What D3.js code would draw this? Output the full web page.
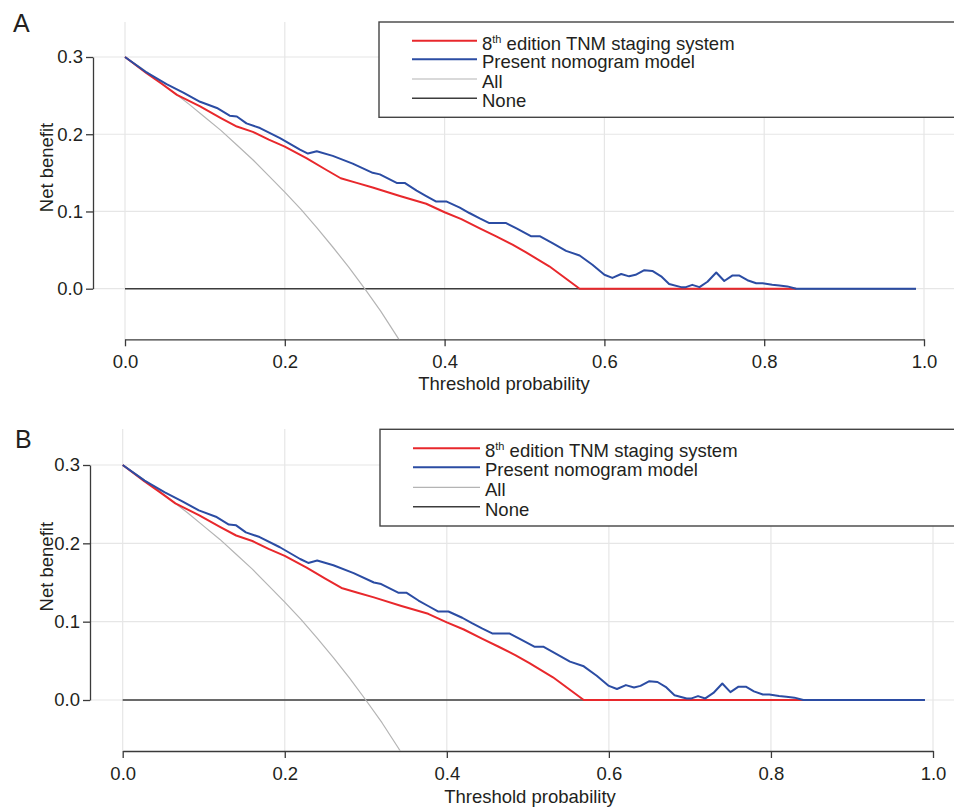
<!DOCTYPE html>
<html>
<head>
<meta charset="utf-8">
<script src="https://cdn.jsdelivr.net/npm/d3@7"></script>
<style>
  html, body { margin: 0; padding: 0; background: #fff; }
  svg { display: block; font-family: "Liberation Sans", Arial, Helvetica, sans-serif; }
</style>
</head>
<body>
<svg id="chart" width="954" height="808"></svg>
<script>
// decision curves: [threshold probability, net benefit]
const tnmCurve = [
  [0, 0.300], [0.027, 0.279], [0.045, 0.266], [0.065, 0.251], [0.094, 0.236],
  [0.120, 0.221], [0.140, 0.210], [0.160, 0.203], [0.180, 0.193], [0.200, 0.184],
  [0.227, 0.169], [0.250, 0.155], [0.270, 0.143], [0.290, 0.137], [0.310, 0.131],
  [0.344, 0.120], [0.377, 0.110], [0.400, 0.099], [0.421, 0.090], [0.444, 0.078],
  [0.464, 0.068], [0.485, 0.057], [0.502, 0.047], [0.531, 0.029], [0.569, 0.000],
  [0.840, 0.000]
];
const nomogramCurve = [
  [0, 0.300], [0.027, 0.280], [0.052, 0.265], [0.073, 0.254], [0.094, 0.242],
  [0.115, 0.234], [0.131, 0.224], [0.140, 0.223], [0.152, 0.214], [0.169, 0.208],
  [0.194, 0.195], [0.219, 0.180], [0.229, 0.175], [0.240, 0.178], [0.260, 0.172],
  [0.285, 0.162], [0.310, 0.150], [0.319, 0.148], [0.340, 0.137], [0.350, 0.137],
  [0.365, 0.127], [0.377, 0.120], [0.389, 0.113], [0.402, 0.113], [0.419, 0.105],
  [0.431, 0.098], [0.444, 0.091], [0.456, 0.085], [0.477, 0.085], [0.490, 0.078],
  [0.508, 0.068], [0.519, 0.068], [0.535, 0.059], [0.552, 0.049], [0.569, 0.043],
  [0.585, 0.031], [0.600, 0.018], [0.610, 0.014], [0.621, 0.019], [0.631, 0.016],
  [0.639, 0.018], [0.650, 0.024], [0.660, 0.023], [0.671, 0.016], [0.681, 0.006],
  [0.696, 0.002], [0.702, 0.002], [0.710, 0.005], [0.719, 0.002], [0.729, 0.009],
  [0.740, 0.021], [0.750, 0.010], [0.760, 0.017], [0.769, 0.017], [0.779, 0.011],
  [0.790, 0.007], [0.798, 0.007], [0.810, 0.005], [0.819, 0.004], [0.829, 0.003],
  [0.840, 0.000], [0.990, 0.000]
];
const treatAllCurve = [
  [0, 0.300], [0.02, 0.286], [0.04, 0.271], [0.06, 0.255], [0.08, 0.239],
  [0.10, 0.222], [0.12, 0.205], [0.14, 0.186], [0.16, 0.167], [0.18, 0.146],
  [0.20, 0.125], [0.22, 0.103], [0.24, 0.079], [0.26, 0.054], [0.28, 0.028],
  [0.30, 0.000], [0.32, -0.029], [0.34, -0.061], [0.36, -0.094]
];
const treatNoneCurve = [[0, 0], [0.99, 0]];

const xTicks = [0, 0.2, 0.4, 0.6, 0.8, 1.0];
const yTicks = [0, 0.1, 0.2, 0.3];
const legendLabels = ['8th edition TNM staging system', 'Present nomogram model', 'All', 'None'];

const textColor = '#231f20';
const series = [
  {data: treatNoneCurve, color: '#3c3c3c', width: 1.4},
  {data: treatAllCurve, color: '#b4b4b4', width: 1.2},
  {data: tnmCurve, color: '#e8282c', width: 2},
  {data: nomogramCurve, color: '#2b4ca3', width: 2}
];
const legendStyles = [series[2], series[3], series[1], series[0]];

// pixel layout of the two panels (they are a little different in the figure)
const panels = [
  {id: 'A', letter: [13, 31.5],
    x0: 125, x1: 924, y0: 288.7, y3: 57, axisX: 93, axisY: 339.3, top: 22,
    xLabel: [504, 390], yLabel: [53, 167.5],
    legend: {x: 379, y: 22, h: 95.3, lineX0: 412, lineX1: 477, rows: [40.7, 59.3, 79, 98.3]}},
  {id: 'B', letter: [15, 448.3],
    x0: 122.7, x1: 933, y0: 700, y3: 465, axisX: 90, axisY: 751, top: 429,
    xLabel: [530, 803], yLabel: [53, 566.7],
    legend: {x: 380, y: 429.3, h: 96.7, lineX0: 413, lineX1: 480, rows: [448.3, 467.3, 487.3, 506.7]}}
];

const svg = d3.select('#chart');

function drawPanel(p) {
  const g = svg.append('g');
  const x = d3.scaleLinear().domain([0, 1]).range([p.x0, p.x1]);
  const y = d3.scaleLinear().domain([0, 0.3]).range([p.y0, p.y3]);

  // grid
  g.selectAll('line.vgrid').data(xTicks).join('line')
    .attr('x1', d => x(d)).attr('x2', d => x(d))
    .attr('y1', p.top).attr('y2', p.axisY)
    .attr('stroke', '#e6e6e6').attr('stroke-width', 1.2);
  g.selectAll('line.hgrid').data(yTicks).join('line')
    .attr('x1', p.axisX).attr('x2', 960)
    .attr('y1', d => y(d)).attr('y2', d => y(d))
    .attr('stroke', '#e6e6e6').attr('stroke-width', 1.2);

  // axes
  const xAxis = g.append('g')
    .attr('transform', `translate(0,${p.axisY})`)
    .call(d3.axisBottom(x).tickValues(xTicks).tickFormat(d3.format('.1f')).tickSizeInner(7).tickSizeOuter(0).tickPadding(9));
  const yAxis = g.append('g')
    .attr('transform', `translate(${p.axisX},0)`)
    .call(d3.axisLeft(y).tickValues(yTicks).tickFormat(d3.format('.1f')).tickSizeInner(7).tickSizeOuter(0).tickPadding(3));
  [xAxis, yAxis].forEach(a => {
    a.select('.domain').attr('stroke', '#3a3a3a').attr('stroke-width', 1.3);
    a.selectAll('.tick line').attr('stroke', '#3a3a3a').attr('stroke-width', 1.3);
    a.selectAll('.tick text').attr('fill', textColor).style('font-size', '18.5px');
  });

  // curves, clipped to the plot region
  const clipId = 'clip' + p.id;
  g.append('clipPath').attr('id', clipId).append('rect')
    .attr('x', p.axisX).attr('y', p.top).attr('width', 960 - p.axisX).attr('height', p.axisY - p.top);
  const line = d3.line().x(d => x(d[0])).y(d => y(d[1]));
  const curves = g.append('g').attr('clip-path', `url(#${clipId})`);
  series.forEach(s => {
    curves.append('path')
      .attr('d', line(s.data))
      .attr('fill', 'none')
      .attr('stroke', s.color)
      .attr('stroke-width', s.width)
      .attr('stroke-linejoin', 'round');
  });

  // axis titles
  g.append('text')
    .attr('x', p.xLabel[0]).attr('y', p.xLabel[1])
    .attr('text-anchor', 'middle').attr('fill', textColor).style('font-size', '18.5px')
    .text('Threshold probability');
  g.append('text')
    .attr('transform', `translate(${p.yLabel[0]},${p.yLabel[1]}) rotate(-90)`)
    .attr('text-anchor', 'middle').attr('fill', textColor).style('font-size', '18.5px')
    .text('Net benefit');

  // legend
  const L = p.legend;
  g.append('rect')
    .attr('x', L.x).attr('y', L.y).attr('width', 960 - L.x).attr('height', L.h)
    .attr('fill', '#fff').attr('stroke', '#444').attr('stroke-width', 1.4);
  legendLabels.forEach((label, i) => {
    const st = legendStyles[i];
    g.append('line')
      .attr('x1', L.lineX0).attr('x2', L.lineX1)
      .attr('y1', L.rows[i]).attr('y2', L.rows[i])
      .attr('stroke', st.color).attr('stroke-width', st.width);
    const t = g.append('text')
      .attr('x', L.lineX1 + 5).attr('y', L.rows[i] + 9)
      .attr('fill', textColor).style('font-size', '18.5px');
    if (label.startsWith('8th')) {
      t.append('tspan').text('8');
      t.append('tspan').attr('dy', -7).style('font-size', '11px').text('th');
      t.append('tspan').attr('dy', 7).text(label.slice(3));
    } else {
      t.text(label);
    }
  });

  // panel letter
  g.append('text')
    .attr('x', p.letter[0]).attr('y', p.letter[1])
    .attr('fill', textColor).style('font-size', '25px')
    .text(p.id);
}

panels.forEach(drawPanel);
</script>
</body>
</html>
